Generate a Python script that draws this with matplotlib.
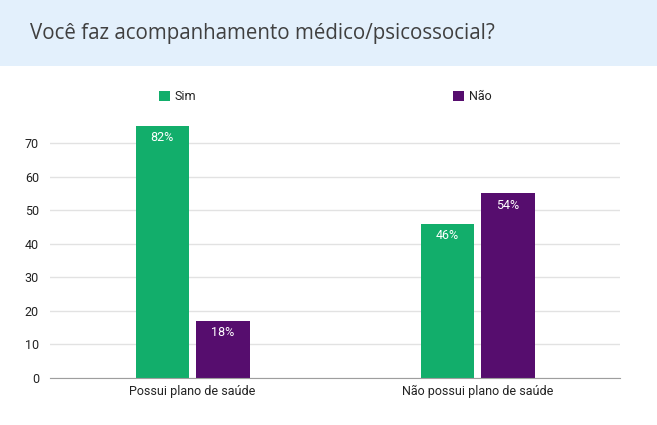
import numpy as np
import matplotlib.pyplot as plt
from matplotlib.patches import Rectangle

categories = ["Possui plano de saúde", "Não possui plano de saúde"]
sim = [75, 46]
nao = [17, 55]
sim_pct = ["82%", "46%"]
nao_pct = ["18%", "54%"]
yticks = [0, 10, 20, 30, 40, 50, 60, 70]

green = "#12ae6b"
purple = "#560d6e"

plt.rcParams['font.family'] = ['Roboto', 'DejaVu Sans']

fig = plt.figure(figsize=(6.57, 4.25), dpi=100)
W, H = 657, 425

# title banner
fig.patches.append(Rectangle((0, 1 - 66 / H), 1, 66 / H, transform=fig.transFigure,
                             facecolor="#e3f0fc", edgecolor="none", zorder=0))
fig.text(30 / W, 1 - 33 / H, "Você faz acompanhamento médico/psicossocial?",
         fontsize=14.8, color="#404040", va="center", ha="left",
         family=['Open Sans', 'DejaVu Sans'])

ymax = 76
px_per = 235 / 70
top_px = 378 - ymax * px_per
ax = fig.add_axes([50 / W, 47 / H, 570 / W, (378 - top_px) / H])

x = np.arange(len(categories))
w = 0.186
off = 0.107
b1 = ax.bar(x - off, sim, w, color=green, label="Sim", zorder=3)
b2 = ax.bar(x + off, nao, w, color=purple, label="Não", zorder=3)

for bars, labels in [(b1, sim_pct), (b2, nao_pct)]:
    for b, lab in zip(bars, labels):
        ax.text(b.get_x() + b.get_width() / 2, b.get_height() - 3.5, lab,
                ha="center", va="center", color="white", fontsize=9, zorder=4)

ax.set_xlim(-0.5, 1.5)
ax.set_ylim(0, ymax)
ax.set_yticks(yticks)
ax.set_xticks(x)
ax.set_xticklabels(categories, fontsize=9, color="#222222")
ax.tick_params(axis="y", labelsize=9, labelcolor="#222222", length=0, pad=8)
ax.tick_params(axis="x", length=0, pad=5)
ax.grid(axis="y", color="#e2e2e2", linewidth=1, zorder=0)
for s in ["top", "right", "left"]:
    ax.spines[s].set_visible(False)
ax.spines["bottom"].set_color("#9e9e9e")
ax.spines["bottom"].set_zorder(5)

fig.legend(handles=[b1, b2], labels=["Sim", "Não"], loc="center",
           bbox_to_anchor=(325 / W, 1 - 97 / H), ncol=2, frameon=False,
           fontsize=9, handlelength=0.9, handleheight=0.9, handletextpad=0.4,
           columnspacing=20.5, labelcolor="#222222")

fig.savefig("out.png", dpi=100)
